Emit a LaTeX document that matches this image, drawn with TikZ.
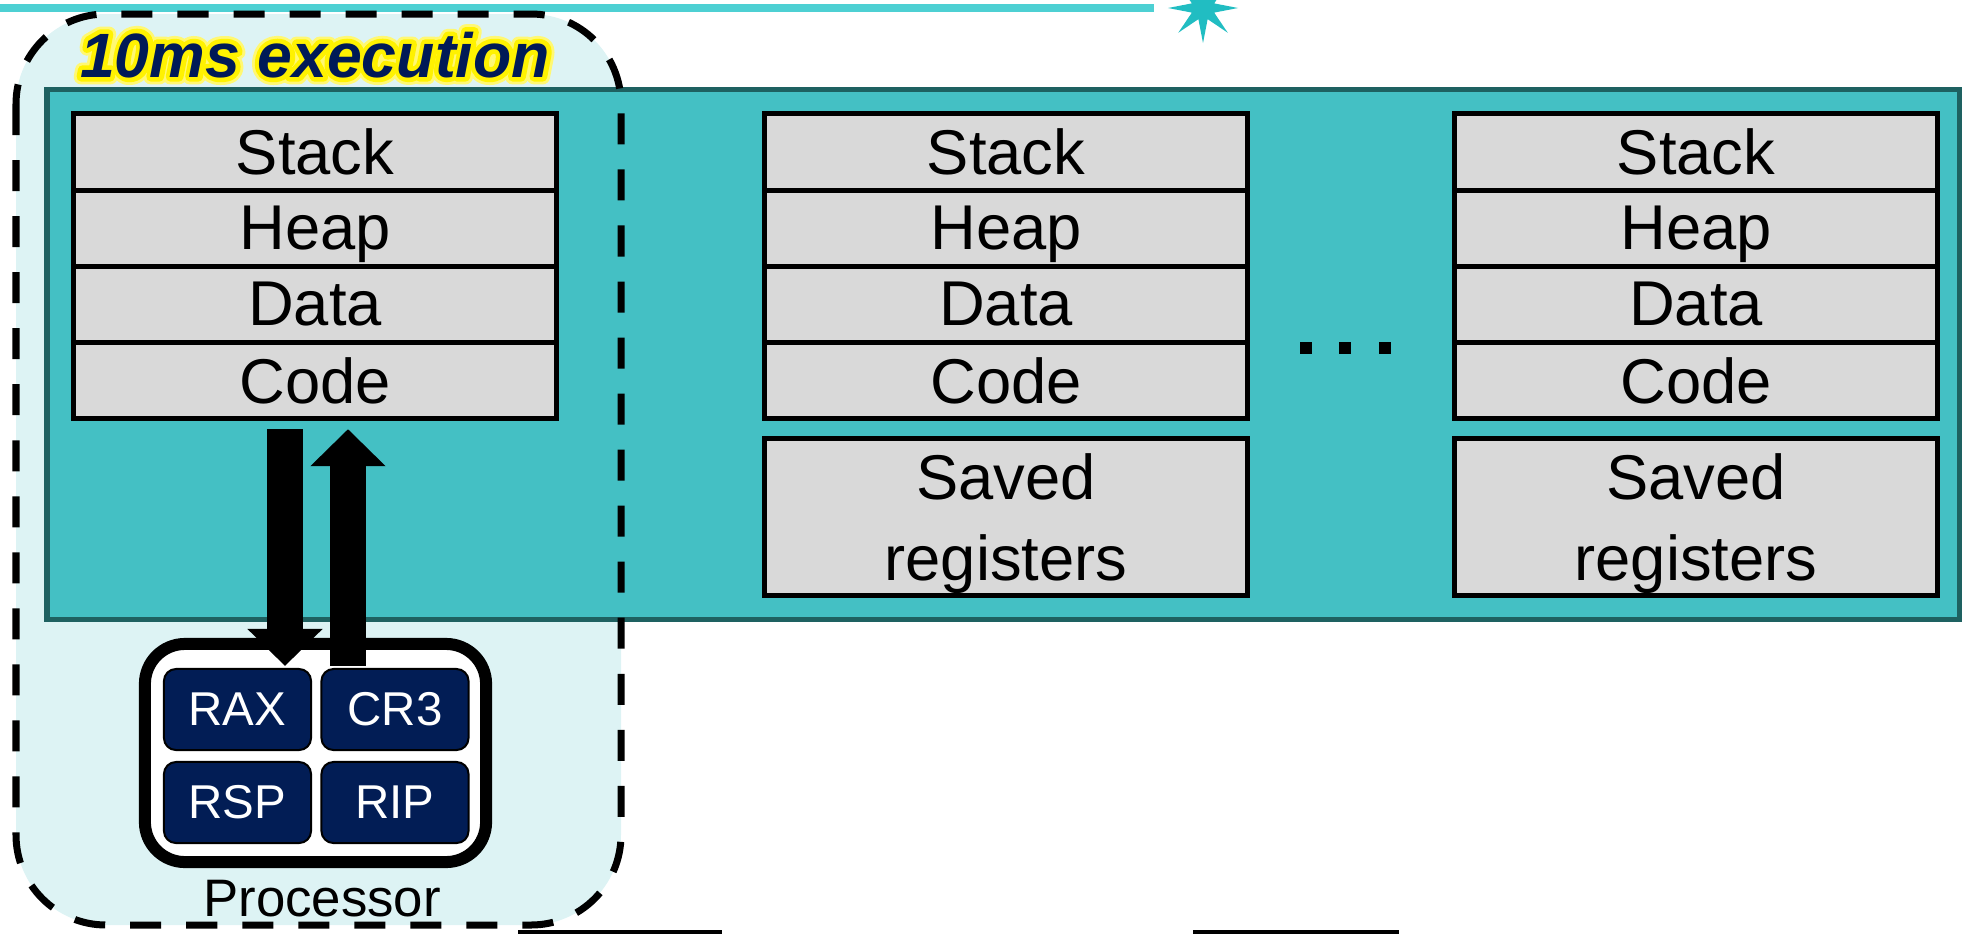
\documentclass[tikz,border=0pt]{standalone}
\usepackage{fontspec}
\setmainfont{Liberation Sans}
\usetikzlibrary{positioning,calc,arrows.meta,shapes.geometric}

\definecolor{linecol}{HTML}{4DD0D3}
\definecolor{starcol}{HTML}{21BDC2}
\definecolor{slicecol}{HTML}{DDF3F4}
\definecolor{memcol}{HTML}{44C0C4}
\definecolor{memedge}{HTML}{1E6161}
\definecolor{segcol}{HTML}{D9D9D9}
\definecolor{regcol}{HTML}{021D55}
\definecolor{titlecol}{HTML}{001A57}

% stroked copy of a text, for the glow behind the label
\newcommand\glowstroke[3]{\rlap{\color{#1}\special{pdf:literal direct 1 j #2 w 1 Tr}#3\special{pdf:literal direct 0 Tr}}}

\tikzset{
  seg/.style={draw, line width=0.05cm, fill=segcol, minimum width=4.82cm, minimum height=0.76cm,
    inner sep=0, outer sep=0, text depth=0pt, align=center, font=\fontsize{18}{23}\selectfont},
  reg/.style={draw, line width=0.02cm, fill=regcol, rounded corners=0.12cm, minimum width=1.47cm,
    minimum height=0.81cm, inner sep=0, text=white, font=\fontsize{13.5}{16}\selectfont},
  bigarrow/.style={line width=0.36cm, -{Triangle[width=0.73cm,length=0.37cm]}},
  titlefont/.style={font=\fontsize{17.8}{20}\selectfont\bfseries\itshape, anchor=base, inner sep=0}
}

\begin{document}
\begin{tikzpicture}[x=0.01cm, y=-0.01cm]
\useasboundingbox (0,0) rectangle (1964,933);

% time line and the tick burst
\draw[linecol, line width=0.08cm] (0,8) -- (1154,8);
\node[star, star points=8, star point ratio=2.9, fill=starcol, inner sep=0, minimum size=0.7cm] (burst) at (1203,8) {};

% the time slice
\fill[slicecol, rounded corners=0.9cm] (16,14) rectangle (621,925);

% memory with three address spaces
\draw[memedge, fill=memcol, line width=0.05cm] (47,89) rectangle (1959,619);
\foreach \col/\cx in {1/315, 2/1006, 3/1696} {
  \node[seg] (stack\col) at (\cx,152) {Stack};
  \node[seg, below=0pt of stack\col] (heap\col) {Heap};
  \node[seg, below=0pt of heap\col] (data\col) {Data};
  \node[seg, below=0pt of data\col] (code\col) {Code};
}
\foreach \col in {2,3}
  \node[seg, minimum height=1.57cm, below=0.2cm of code\col] (saved\col) {Saved\\registers};
\foreach \dx in {1306,1345,1385}
  \fill (\dx-6,342) rectangle (\dx+6,354);

\draw[dashed, dash pattern=on 0.31cm off 0.25cm, line width=0.07cm, rounded corners=0.9cm] (16,14) rectangle (621,925);

% label with a yellow glow
\node[titlefont] (title) at (315,77)
  {\glowstroke{yellow!55}{4.2}{10ms execution}\glowstroke{yellow}{2.6}{10ms execution}\textcolor{titlecol}{10ms execution}};

% processor
\node[draw, line width=0.12cm, rounded corners=0.4cm, fill=white, minimum width=3.41cm,
  minimum height=2.18cm, outer sep=0] (cpu) at (315.5,753) {};
\node[reg] (rax) at (237.5,709.5) {RAX};
\node[reg] (cr3) at (395,709.5) {CR3};
\node[reg] (rsp) at (237.5,802.5) {RSP};
\node[reg] (rip) at (395,802.5) {RIP};
\node[anchor=base, inner sep=0, font=\fontsize{15}{17}\selectfont] (cpulabel) at (322,916) {Processor};

\draw[bigarrow] ($(code1.south)+(-30,11)$) -- ($(cpu.north)+(-30.5,22)$);
\draw[bigarrow] ($(cpu.north)+(32.5,22)$) -- ($(code1.south)+(33,11)$);

% boxes below
\draw[line width=0.04cm] (518,932) -- (722,932);
\draw[line width=0.04cm] (1193,932) -- (1399,932);
\end{tikzpicture}
\end{document}
